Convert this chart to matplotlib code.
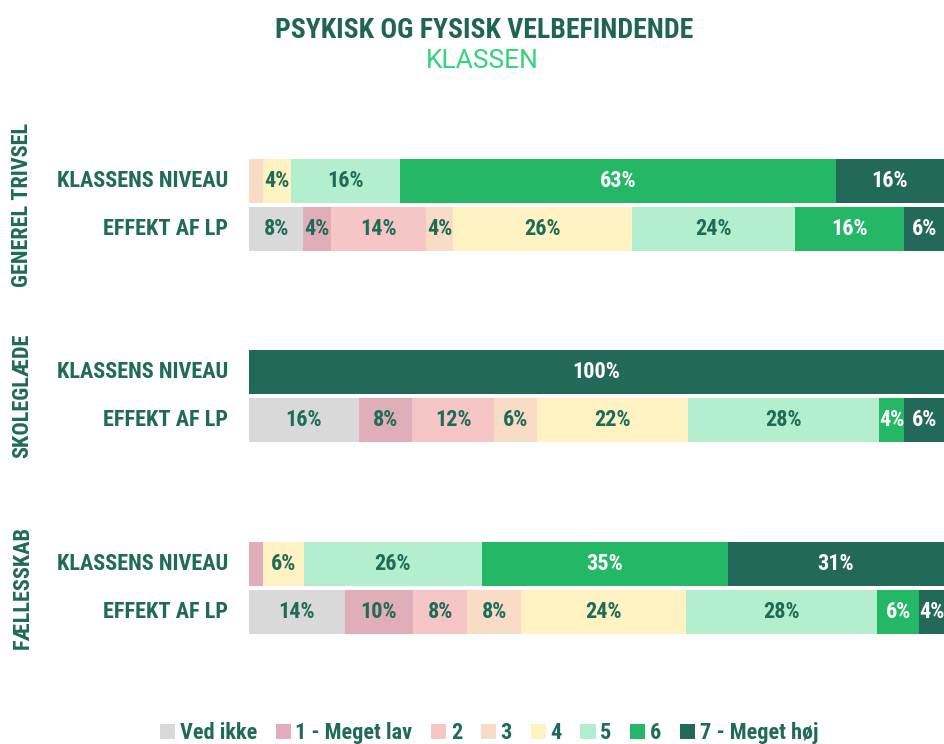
import matplotlib
matplotlib.use("Agg")
import matplotlib.pyplot as plt
from matplotlib import font_manager
from matplotlib.patches import Patch

# ---------------- data ----------------
levels = ["Ved ikke", "1 - Meget lav", "2", "3", "4", "5", "6", "7 - Meget høj"]
groups = ["GENEREL TRIVSEL", "SKOLEGLÆDE", "FÆLLESSKAB"]
rows = ["KLASSENS NIVEAU", "EFFEKT AF LP"]

trivsel_klassen = [0, 0, 0, 2.0, 4.0, 15.7, 62.7, 15.6]
trivsel_effekt = [7.8, 4.0, 13.7, 3.9, 25.7, 23.5, 15.7, 5.7]
skole_klassen = [0, 0, 0, 0, 0, 0, 0, 100.0]
skole_effekt = [15.8, 7.7, 11.8, 6.1, 21.7, 27.5, 3.7, 5.7]
faelles_klassen = [0, 2.0, 0, 0, 5.9, 25.6, 35.4, 31.1]
faelles_effekt = [13.8, 9.8, 7.8, 7.8, 23.7, 27.5, 6.0, 3.6]

series = [(trivsel_klassen, trivsel_effekt),
          (skole_klassen, skole_effekt),
          (faelles_klassen, faelles_effekt)]

colors = ["#D9D9D9", "#E0AEB8", "#F6C6C6", "#F8DCC6",
          "#FFF2C2", "#B3EECF", "#24B866", "#23695A"]
text_dark = "#1F6B57"
title_color = "#1F6552"
sub_color = "#33D47E"

# ---------------- fonts ----------------
names = {f.name for f in font_manager.fontManager.ttflist}
fnames = [f.fname for f in font_manager.fontManager.ttflist]
if "Roboto Condensed" in names:
    COND = dict(family="Roboto Condensed", weight="bold")
elif "Liberation Sans Narrow" in names:
    COND = dict(family="Liberation Sans Narrow", weight="bold")
elif any("DejaVuSansCondensed" in f for f in fnames):
    COND = dict(family="DejaVu Sans", stretch="condensed", weight="bold")
else:
    COND = dict(family="DejaVu Sans", weight="bold")

# ---------------- figure ----------------
W, H = 944, 744
fig = plt.figure(figsize=(W / 100, H / 100), dpi=100)
ax_top, ax_bot = 100, 700
ax = fig.add_axes([249 / W, 1 - ax_bot / H, 1 - 249 / W, (ax_bot - ax_top) / H])
ax.set_xlim(0, 100)
ax.set_ylim(ax_bot - ax_top, 0)
ax.axis("off")

bar_h = 44
group_step = 191.5
row_step = 48
base = 80.5

for g, pair in enumerate(series):
    for r, vals in enumerate(pair):
        y = base + g * group_step + r * row_step
        left = 0
        for i, v in enumerate(vals):
            if v > 0:
                ax.barh(y, v, left=left, height=bar_h, color=colors[i], linewidth=0)
                if v >= 3:
                    tc = "white" if i >= 6 else text_dark
                    ax.text(left + v / 2, y, f"{round(v)}%", ha="center", va="center",
                            color=tc, fontsize=16, **COND)
            left += v
        ax.text(-3.0, y, rows[r], ha="right", va="center", color=text_dark,
                fontsize=16, **COND)
    gy = base + g * group_step + row_step / 2
    ax.text(-32.6, gy, groups[g], ha="center", va="center", rotation=90,
            color=text_dark, fontsize=16, clip_on=False, **COND)

# ---------------- titles ----------------
fig.text(0.513, 1 - 30 / H, "PSYKISK OG FYSISK VELBEFINDENDE", ha="center", va="center",
         color=title_color, fontsize=20, **COND)
fig.text(0.511, 1 - 61 / H, "KLASSEN", ha="center", va="center",
         color=sub_color, fontsize=19, family="Roboto", weight="normal")

# ---------------- legend ----------------
handles = [Patch(facecolor=c, edgecolor="none", label=l) for c, l in zip(colors, levels)]
leg = fig.legend(handles=handles, loc="center", bbox_to_anchor=(0.518, 1 - 733 / H),
                 ncol=8, frameon=False, handlelength=0.68, handleheight=0.68,
                 handletextpad=0.2, columnspacing=0.85,
                 prop=font_manager.FontProperties(size=16, **COND))
for t in leg.get_texts():
    t.set_color(text_dark)

fig.savefig("out.png", dpi=100)
